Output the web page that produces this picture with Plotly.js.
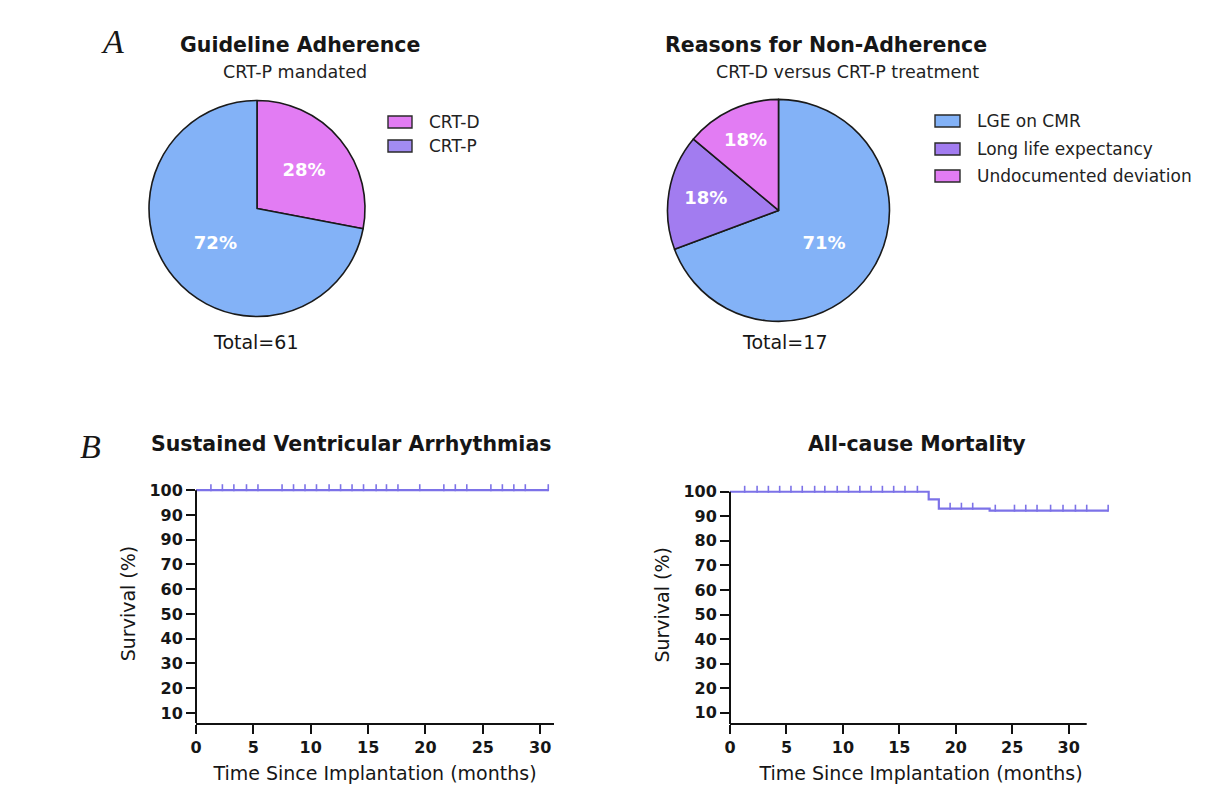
<!DOCTYPE html>
<html>
<head>
<meta charset="utf-8">
<script src="https://cdn.plot.ly/plotly-3.0.1.min.js"></script>
<style>
  html, body { margin: 0; padding: 0; background: #ffffff; }
  #chart { width: 1210px; height: 800px; }
</style>
</head>
<body>
<div id="chart"></div>
<script>
// ---------------- DATA ----------------
const adherenceLabels = ['CRT-D', 'CRT-P'];
const adherenceValues = [28, 72];
const adherenceText = ['28%', '72%'];
const adherenceTotal = 'Total=61';

const reasonLabels = ['LGE on CMR', 'Long life expectancy', 'Undocumented deviation'];
const reasonValues = [69.3, 16.8, 13.9];
const reasonText = ['71%', '18%', '18%'];
const reasonTotal = 'Total=17';

// Sustained ventricular arrhythmias (Kaplan-Meier)
const svaTime = [0, 30.7];
const svaSurv = [100, 100];
const svaCensor = [1.3, 2.3, 3.3, 4.4, 5.4, 7.5, 8.5, 9.5, 10.5, 11.6, 12.6, 13.6, 14.6, 15.7, 16.6, 17.6,
                   19.5, 21.6, 22.6, 23.6, 25.7, 26.7, 27.7, 28.7, 30.7];

// All-cause mortality (Kaplan-Meier)
const mortTime = [0, 17.6, 18.5, 23.0, 33.5];
const mortSurv = [100, 96.9, 93.1, 92.3, 92.3];
const mortCensor = [1.3, 2.4, 3.4, 4.4, 5.4, 6.4, 7.5, 8.4, 9.5, 10.5, 11.5, 12.5, 13.5, 14.5, 15.5, 16.6,
                    19.5, 20.5, 21.5, 23.5, 25.2, 26.2, 27.2, 28.4, 29.5, 30.6, 31.6, 33.5];

const yTickVals = [10, 20, 30, 40, 50, 60, 70, 80, 90, 100];
const svaYTickText = ['10', '20', '30', '40', '50', '60', '70', '90', '90', '100'];
const mortYTickText = ['10', '20', '30', '40', '50', '60', '70', '80', '90', '100'];
const xTickVals = [0, 5, 10, 15, 20, 25, 30];

const panelTitles = ['Guideline Adherence', 'Reasons for Non-Adherence',
                     'Sustained Ventricular Arrhythmias', 'All-cause Mortality'];
const panelSubtitles = ['CRT-P mandated', 'CRT-D versus CRT-P treatment'];
const yTitle = 'Survival (%)';
const xTitle = 'Time Since Implantation (months)';

// ---------------- STYLE / LAYOUT ----------------
const W = 1210, H = 800;
const px = x => x / W;
const py = y => 1 - y / H;

const BLUE = '#83b2f7';
const PINK = '#e27cf3';
const PURPLE = '#a27cf0';
const LEGEND_PURPLE = '#a28cf2';
const KM = '#7c72e8';
const FONT = 'DejaVu Sans, sans-serif';
const INK = '#161616';

function survAt(times, surv, t) {
  let s = surv[0];
  for (let i = 0; i < times.length; i++) { if (times[i] <= t) s = surv[i]; }
  return s;
}
const tickLift = 1.0; // visual lift of censor ticks above the curve (axis units)

const traces = [
  {
    type: 'pie', labels: adherenceLabels, values: adherenceValues, text: adherenceText,
    textinfo: 'text', textposition: 'inside', insidetextorientation: 'horizontal',
    sort: false, direction: 'clockwise', rotation: 0,
    marker: { colors: [PINK, BLUE], line: { color: '#1a1a1a', width: 1.6 } },
    textfont: { family: FONT, size: 18, color: '#ffffff', weight: 'bold' },
    domain: { x: [px(149), px(365)], y: [py(316.5), py(100.5)] },
    showlegend: false, hoverinfo: 'label+percent'
  },
  {
    type: 'pie', labels: reasonLabels, values: reasonValues, text: reasonText,
    textinfo: 'text', textposition: 'inside', insidetextorientation: 'horizontal',
    sort: false, direction: 'clockwise', rotation: 0,
    marker: { colors: [BLUE, PURPLE, PINK], line: { color: '#1a1a1a', width: 1.6 } },
    textfont: { family: FONT, size: 18, color: '#ffffff', weight: 'bold' },
    domain: { x: [px(667.5), px(889.5)], y: [py(321.4), py(99.4)] },
    showlegend: false, hoverinfo: 'label+percent'
  },
  {
    type: 'scatter', mode: 'lines', x: svaTime, y: svaSurv, xaxis: 'x', yaxis: 'y',
    line: { color: KM, width: 2.2, shape: 'hv' }, showlegend: false
  },
  {
    type: 'scatter', mode: 'markers', x: svaCensor,
    y: svaCensor.map(t => survAt(svaTime, svaSurv, t) + tickLift), xaxis: 'x', yaxis: 'y',
    marker: { symbol: 'line-ns', size: 5, line: { color: KM, width: 1.6 } },
    cliponaxis: false, showlegend: false
  },
  {
    type: 'scatter', mode: 'lines', x: mortTime, y: mortSurv, xaxis: 'x2', yaxis: 'y2',
    line: { color: KM, width: 2.2, shape: 'hv' }, showlegend: false
  },
  {
    type: 'scatter', mode: 'markers', x: mortCensor,
    y: mortCensor.map(t => survAt(mortTime, mortSurv, t) + tickLift), xaxis: 'x2', yaxis: 'y2',
    marker: { symbol: 'line-ns', size: 5, line: { color: KM, width: 1.6 } },
    cliponaxis: false, showlegend: false
  }
];

const tickFont = { family: FONT, size: 16, color: INK, weight: 'bold' };
const titleFont = { family: FONT, size: 19, color: INK };

function xAxis(domain, range, showline) {
  return {
    domain: domain, range: range, tickvals: xTickVals, ticks: 'outside', ticklen: 9, tickwidth: 2,
    tickcolor: '#111', showline: showline, linecolor: '#111', linewidth: 2, showgrid: false,
    zeroline: false, tickfont: tickFont, fixedrange: true,
    title: { text: xTitle, font: titleFont, standoff: 10 }
  };
}
function yAxis(domain, range, ticktext, anchor) {
  return {
    domain: domain, range: range, tickvals: yTickVals, ticktext: ticktext, ticks: 'outside',
    ticklen: 9, tickwidth: 2, tickcolor: '#111', showline: false,
    showgrid: false, zeroline: false, tickfont: tickFont, anchor: anchor, fixedrange: true,
    title: { text: yTitle, font: titleFont, standoff: 8 }
  };
}

const annotations = [];
function label(text, x, y, font, anchor) {
  annotations.push({ text: text, x: px(x), y: py(y), xref: 'paper', yref: 'paper', showarrow: false,
                     xanchor: anchor || 'center', yanchor: 'middle', font: font });
}
const boldTitle = { family: FONT, size: 20.5, color: INK, weight: 'bold' };
const subFont = { family: FONT, size: 17.5, color: '#222' };
const legendFont = { family: FONT, size: 17, color: '#222' };
const panelFont = { family: 'Liberation Serif, serif', size: 34, color: INK };

label('<i>A</i>', 112, 42, panelFont);
label('<i>B</i>', 90, 446, panelFont);
label(panelTitles[0], 300, 45, boldTitle);
label(panelSubtitles[0], 295, 72, subFont);
label(panelTitles[1], 826, 45, boldTitle);
label(panelSubtitles[1], 847, 72, subFont);
label(panelTitles[2], 351, 444, boldTitle);
label(panelTitles[3], 917, 444, boldTitle);
label(adherenceTotal, 255, 342, { family: FONT, size: 19, color: INK });
label(reasonTotal, 785, 342, { family: FONT, size: 19, color: INK });

const shapes = [];
function swatch(x0, yc, w, color) {
  shapes.push({ type: 'rect', xref: 'paper', yref: 'paper', x0: px(x0), x1: px(x0 + w),
                y0: py(yc + 6), y1: py(yc - 6), fillcolor: color, line: { color: '#2a2a2a', width: 1.4 } });
}
const leftLegendColors = [PINK, LEGEND_PURPLE];
const leftLegendY = [122, 146];
adherenceLabels.forEach((lab, i) => {
  swatch(388, leftLegendY[i], 24, leftLegendColors[i]);
  label(lab, 427, leftLegendY[i], legendFont, 'left');
});
const rightLegendColors = [BLUE, PURPLE, PINK];
const rightLegendY = [121, 149, 176];
reasonLabels.forEach((lab, i) => {
  swatch(935, rightLegendY[i], 25, rightLegendColors[i]);
  label(lab, 975, rightLegendY[i], legendFont, 'left');
});

// axis lines: y axes rise to the 100 tick; mortality x axis stops short of the curve's end
shapes.push({ type: 'line', xref: 'x domain', yref: 'y', x0: 0, x1: 0, y0: 5.96, y1: 100,
              line: { color: '#111', width: 2 } });
shapes.push({ type: 'line', xref: 'x2 domain', yref: 'y2', x0: 0, x1: 0, y0: 5.4, y1: 100,
              line: { color: '#111', width: 2 } });
shapes.push({ type: 'line', xref: 'x2', yref: 'y2 domain', x0: 0, x1: 31.6, y0: 0, y1: 0,
              line: { color: '#111', width: 2 } });

const layout = {
  width: W, height: H, margin: { l: 0, r: 0, t: 0, b: 0 },
  paper_bgcolor: '#ffffff', plot_bgcolor: 'rgba(0,0,0,0)', showlegend: false,
  font: { family: FONT, color: INK },
  xaxis: xAxis([px(196), px(554)], [0, 31.2], true),
  yaxis: yAxis([py(723), py(484)], [5.96, 102.5], svaYTickText, 'x'),
  xaxis2: Object.assign(xAxis([px(730), px(1112)], [0, 33.84], false), { anchor: 'y2' }),
  yaxis2: yAxis([py(724), py(485.6)], [5.4, 102.5], mortYTickText, 'x2'),
  annotations: annotations, shapes: shapes
};

Plotly.newPlot('chart', traces, layout, { displayModeBar: false, staticPlot: true });
</script>
</body>
</html>
